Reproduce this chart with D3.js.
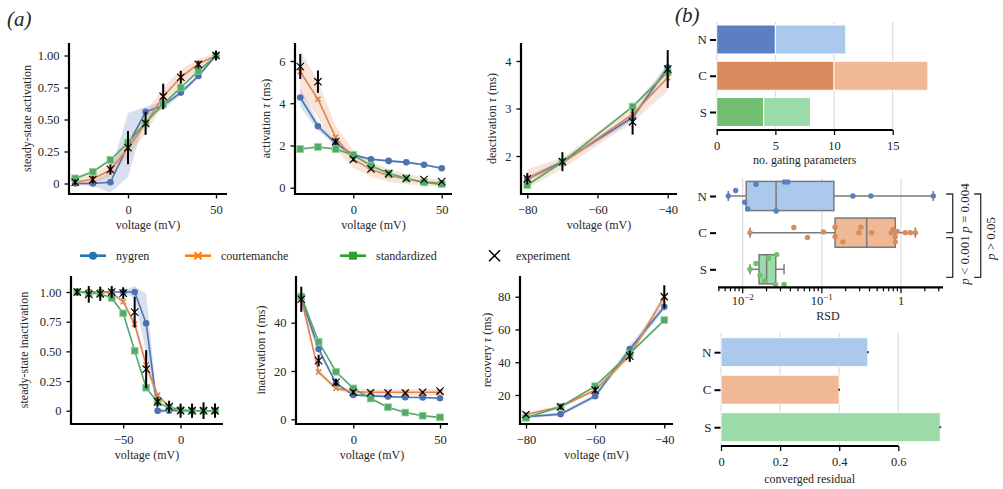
<!DOCTYPE html>
<html lang="en">
<head>
<meta charset="UTF-8">
<title>Gating model comparison</title>
<script src="https://cdn.jsdelivr.net/npm/d3@7"></script>
<style>
  body { margin: 0; background: #fff; }
  svg text { font-family: 'Liberation Serif', 'DejaVu Serif', serif; fill: #262626; }
</style>
</head>
<body>
<div id="chart"></div>
<script>
// ---- model names / colours ----
const modelNames = ['nygren', 'courtemanche', 'standardized'];
const modelColors = ['#4c72b0', '#dd8452', '#55a868'];
const legendColors = ['#1f77b4', '#ff7f0e', '#2ca02c'];
const modelMarkers = ['circle', 'x', 'square'];

// ---- steady-state activation ----
const ssActV = [-30, -20, -10, 0, 10, 20, 30, 40, 50];
const ssActNygren = [0, 0, 0.01, 0.30, 0.56, 0.61, 0.71, 0.84, 1.0];
const ssActCourt = [0.01, 0.035, 0.105, 0.275, 0.47, 0.68, 0.83, 0.935, 1.0];
const ssActStd = [0.04, 0.092, 0.184, 0.32, 0.475, 0.62, 0.75, 0.88, 1.0];
const ssActExp = [0.01, 0.03, 0.11, 0.28, 0.47, 0.68, 0.83, 0.93, 1.0];
const ssActExpErr = [0.02, 0.03, 0.04, 0.13, 0.09, 0.1, 0.05, 0.03, 0.04];
const ssActNygrenBand = [0.01, 0.02, 0.08, 0.25, 0.04, 0.03, 0.02, 0.02, 0.01];
const ssActCourtBand = [0.03, 0.04, 0.05, 0.06, 0.08, 0.07, 0.06, 0.04, 0.02];
const ssActStdBand = [0.01, 0.01, 0.01, 0.01, 0.01, 0.01, 0.01, 0.01, 0.01];

// ---- activation tau ----
const actTauV = [-30, -20, -10, 0, 10, 20, 30, 40, 50];
const actTauNygren = [4.27, 2.91, 2.1, 1.55, 1.35, 1.27, 1.2, 1.09, 0.92];
const actTauCourt = [5.5, 4.19, 2.39, 1.35, 0.87, 0.57, 0.41, 0.28, 0.22];
const actTauStd = [1.83, 1.93, 1.83, 1.55, 1.04, 0.68, 0.44, 0.25, 0.17];
const actTauExp = [5.74, 5.02, 2.18, 1.34, 0.89, 0.67, 0.44, 0.39, 0.29];
const actTauExpErr = [0.59, 0.53, 0.15, 0.1, 0.06, 0.05, 0.05, 0.05, 0.05];
const actTauNygrenBand = [0.45, 0.2, 0.1, 0.08, 0.06, 0.05, 0.05, 0.05, 0.05];
const actTauCourtBand = [1.0, 0.85, 0.55, 0.42, 0.35, 0.3, 0.25, 0.2, 0.15];
const actTauStdBand = [0.05, 0.05, 0.05, 0.05, 0.05, 0.05, 0.05, 0.05, 0.05];

// ---- deactivation tau ----
const deactTauV = [-80, -70, -50, -40];
const deactTauNygren = [1.52, 1.88, 2.81, 3.86];
const deactTauCourt = [1.52, 1.85, 2.88, 3.65];
const deactTauStd = [1.39, 1.87, 3.04, 3.77];
const deactTauExp = [1.52, 1.88, 2.72, 3.83];
const deactTauExpErr = [0.12, 0.2, 0.27, 0.4];
const deactTauNygrenBand = [0.05, 0.05, 0.06, 0.08];
const deactTauCourtBand = [0.2, 0.12, 0.17, 0.28];
const deactTauStdBand = [0.02, 0.02, 0.02, 0.02];

// ---- steady-state inactivation ----
const ssInactV = [-90, -80, -70, -60, -50, -40, -30, -20, -10, 0, 10, 20, 30];
const ssInactNygren = [1, 1, 1, 1, 1, 1, 0.736, 0, 0, 0, 0, 0, 0];
const ssInactCourt = [1, 1, 1, 0.99, 0.918, 0.73, 0.385, 0.13, 0.034, 0.005, 0, 0, 0];
const ssInactStd = [1, 0.99, 0.985, 0.95, 0.82, 0.505, 0.194, 0.07, 0.025, 0.005, 0, 0, 0];
const ssInactExp = [1, 0.98, 0.985, 1.0, 0.99, 0.83, 0.35, 0.076, 0.034, 0, 0, 0, 0];
const ssInactExpErr = [0.03, 0.07, 0.06, 0.05, 0.05, 0.13, 0.16, 0.04, 0.05, 0.06, 0.06, 0.07, 0.06];
const ssInactNygrenBand = [0, 0, 0, 0, 0.01, 0.05, 0.25, 0.03, 0, 0, 0, 0, 0];
const ssInactCourtBand = [0, 0, 0, 0.01, 0.02, 0.04, 0.05, 0.03, 0.01, 0, 0, 0, 0];
const ssInactStdBand = [0, 0, 0, 0.01, 0.01, 0.01, 0.01, 0.01, 0, 0, 0, 0, 0];

// ---- inactivation tau ----
const inactTauV = [-30, -20, -10, 0, 10, 20, 30, 40, 50];
const inactTauNygren = [50.3, 29.1, 14.9, 10.1, 9.7, 9.4, 9.1, 9.0, 8.7];
const inactTauCourt = [50, 19.6, 12.8, 11.4, 11.2, 11.2, 11.2, 11.2, 11.2];
const inactTauStd = [50.8, 32.1, 19.7, 12.8, 8.6, 5.0, 2.8, 1.5, 0.8];
const inactTauExp = [49.7, 24.3, 15.3, 11.2, 11.0, 10.9, 10.9, 11.2, 11.7];
const inactTauExpErr = [5.2, 2.4, 1.5, 1.0, 0.6, 0.5, 0.5, 0.5, 0.5];
const inactTauNygrenBand = [3, 1.5, 0.8, 0.4, 0.4, 0.4, 0.4, 0.4, 0.4];
const inactTauCourtBand = [2, 1, 0.8, 1, 1.2, 1.2, 1.2, 1.2, 1.2];
const inactTauStdBand = [0.5, 0.3, 0.3, 0.3, 0.3, 0.3, 0.3, 0.3, 0.3];

// ---- recovery tau ----
const recTauV = [-80, -70, -60, -50, -40];
const recTauNygren = [6.7, 8.3, 19.3, 48, 73.8];
const recTauCourt = [8.1, 12.8, 23, 44.3, 79.9];
const recTauStd = [6.1, 12.8, 25.4, 45.3, 65.7];
const recTauExp = [8.1, 12.8, 23, 43.7, 80];
const recTauExpErr = [1, 1.5, 2, 3.5, 7];
const recTauNygrenBand = [1, 1, 1.5, 2.5, 2];
const recTauCourtBand = [1, 1, 1.5, 2, 2.5];
const recTauStdBand = [0.5, 0.5, 0.5, 0.5, 0.5];

// ---- tick labels ----
const fracTicks = [0, 0.25, 0.5, 0.75, 1];
const fracTickLabels = ['0', '0.25', '0.50', '0.75', '1.00'];
const posVTicks = [0, 50];
const posVTickLabels = ['0', '50'];
const negVTicks = [-80, -60, -40];
const negVTickLabels = ['\u221280', '\u221260', '\u221240'];
const inactVTicks = [-50, 0];
const inactVTickLabels = ['\u221250', '0'];

// ---- panel (b) ----
const groups = ['N', 'C', 'S'];
const groupDark = ['#5b7fc0', '#d98b5e', '#72be6f'];
const groupLight = ['#abc9ec', '#f0b894', '#9bdaa9'];
const gatingFirst = [5, 10, 4];
const gatingSecond = [6, 8, 4];
const gatingTicks = [0, 5, 10, 15];

const rsdN = [0.00658, 0.00815, 0.0106, 0.01156, 0.01472, 0.0264, 0.0337, 0.0372, 0.2466, 0.417, 2.56];
const rsdNJitter = [0, -0.15, 0.17, 0.35, -0.32, 0.41, -0.38, -0.38, 0, 0, 0];
const rsdC = [0.01236, 0.0443, 0.0658, 0.105, 0.147, 0.147, 0.1845, 0.312, 0.294, 0.425,
              0.792, 0.754, 0.847, 0.847, 0.897, 1.13, 1.31, 1.52];
const rsdCJitter = [0, -0.14, 0.13, -0.02, -0.15, 0.11, 0.25, -0.15, 0, 0, -0.09, 0, 0.11, 0.25, -0.03, 0, 0, 0];
const rsdS = [0.01236, 0.0147, 0.01655, 0.0188, 0.0213, 0.0269, 0.0259, 0.0333];
const rsdSJitter = [0, -0.16, 0.16, 0.32, -0.3, -0.4, 0.41, 0.41];
const rsdTicks = [0.01, 0.1, 1];
const rsdTickBase = ['10', '10', '1'];
const rsdTickExp = ['\u22122', '\u22121', ''];
const sigLabels = [['=', '0.004'], ['<', '0.001'], ['>', '0.05']];

const residual = [0.497, 0.40, 0.742];
const residualErr = [0.003, 0.003, 0.003];
const residualTicks = [0, 0.2, 0.4, 0.6];
const residualTickLabels = ['0', '0.2', '0.4', '0.6'];

// ---------------------------------------------------------------
const svg = d3.select('#chart').append('svg')
  .attr('width', 1003).attr('height', 489);

const tickFont = 12.5;
const labelFont = 12;

function marker(g, type, cx, cy, color, size) {
  if (type === 'circle') {
    g.append('circle').attr('cx', cx).attr('cy', cy).attr('r', size)
      .attr('fill', color);
  } else if (type === 'square') {
    g.append('rect').attr('x', cx - size).attr('y', cy - size)
      .attr('width', size * 2).attr('height', size * 2)
      .attr('fill', color).attr('stroke', '#8fd49a').attr('stroke-width', 0.8);
  } else {
    g.append('path')
      .attr('d', `M${cx - size},${cy - size}L${cx + size},${cy + size}M${cx - size},${cy + size}L${cx + size},${cy - size}`)
      .attr('stroke', color).attr('stroke-width', type === 'x' ? 1.6 : 1.1).attr('fill', 'none');
  }
}

function styleAxis(a) {
  a.select('.domain').remove();
  a.selectAll('.tick line').attr('stroke', '#000').attr('stroke-width', 1.3);
  a.selectAll('.tick text').attr('font-size', tickFont).attr('fill', '#262626');
}

function drawPanel(p) {
  const g = svg.append('g');
  const x = d3.scaleLinear().domain(p.xRef).range(p.xPx);
  const y = d3.scaleLinear().domain(p.yRef).range(p.yPx);
  const pts = vals => p.v.map((v, i) => ({ x: v, y: vals[i], i }));

  // spread bands
  p.models.forEach((m, k) => {
    const area = d3.area()
      .x(d => x(d.x))
      .y0(d => y(d.y - m.band[d.i]))
      .y1(d => y(d.y + m.band[d.i]));
    g.append('path').datum(pts(m.values)).attr('d', area)
      .attr('fill', modelColors[k]).attr('opacity', 0.22);
  });

  // model lines + markers
  const line = d3.line().x(d => x(d.x)).y(d => y(d.y));
  p.models.forEach((m, k) => {
    g.append('path').datum(pts(m.values)).attr('d', line)
      .attr('fill', 'none').attr('stroke', modelColors[k]).attr('stroke-width', 1.6);
    pts(m.values).forEach(d => {
      const s = modelMarkers[k] === 'circle' ? 3.3 : (modelMarkers[k] === 'square' ? 3.4 : 2.6);
      marker(g, modelMarkers[k], x(d.x), y(d.y), modelColors[k], s);
    });
  });

  // experiment
  pts(p.exp).forEach(d => {
    g.append('line')
      .attr('x1', x(d.x)).attr('x2', x(d.x))
      .attr('y1', y(d.y - p.expErr[d.i])).attr('y2', y(d.y + p.expErr[d.i]))
      .attr('stroke', '#000').attr('stroke-width', 2);
    marker(g, 'exp', x(d.x), y(d.y), '#000', 3.7);
  });

  // axes
  const ax = g.append('g').attr('transform', `translate(0,${p.bottom})`)
    .call(d3.axisBottom(x).tickValues(p.xTicks).tickFormat((d, i) => p.xTickLabels[i])
      .tickSize(4.5).tickPadding(6.5));
  styleAxis(ax);
  const ay = g.append('g').attr('transform', `translate(${p.left},0)`)
    .call(d3.axisLeft(y).tickValues(p.yTicks).tickFormat((d, i) => p.yTickLabels[i])
      .tickSize(4.5).tickPadding(5));
  styleAxis(ay);

  g.append('line').attr('x1', p.left).attr('x2', p.left).attr('y1', p.top).attr('y2', p.bottom + 1)
    .attr('stroke', '#000').attr('stroke-width', 2.2);
  g.append('line').attr('x1', p.left - 1).attr('x2', p.right).attr('y1', p.bottom).attr('y2', p.bottom)
    .attr('stroke', '#000').attr('stroke-width', 2.2);

  // labels
  g.append('text').attr('x', (p.left + p.right) / 2).attr('y', p.bottom + 35)
    .attr('text-anchor', 'middle').attr('font-size', labelFont).text('voltage (mV)');
  const yl = g.append('text')
    .attr('transform', `translate(${p.yLabelX},${(p.top + p.bottom) / 2}) rotate(-90)`)
    .attr('text-anchor', 'middle').attr('font-size', labelFont);
  if (p.tau) {
    yl.append('tspan').text(p.yLabel + ' ');
    yl.append('tspan').attr('font-style', 'italic').text('\u03c4');
    yl.append('tspan').text(' (ms)');
  } else {
    yl.text(p.yLabel);
  }
}

const panels = [
  { v: ssActV, exp: ssActExp, expErr: ssActExpErr,
    models: [{ values: ssActNygren, band: ssActNygrenBand }, { values: ssActCourt, band: ssActCourtBand }, { values: ssActStd, band: ssActStdBand }],
    xRef: [0, 50], xPx: [128, 216], yRef: [0, 1], yPx: [183.5, 55.5],
    left: 69, right: 227, top: 43, bottom: 194,
    xTicks: posVTicks, xTickLabels: posVTickLabels, yTicks: fracTicks, yTickLabels: fracTickLabels,
    yLabel: 'steady-state activation', yLabelX: 31, tau: false },
  { v: actTauV, exp: actTauExp, expErr: actTauExpErr,
    models: [{ values: actTauNygren, band: actTauNygrenBand }, { values: actTauCourt, band: actTauCourtBand }, { values: actTauStd, band: actTauStdBand }],
    xRef: [0, 50], xPx: [353.3, 441.7], yRef: [0, 6], yPx: [187.7, 61],
    left: 295, right: 452, top: 43, bottom: 194,
    xTicks: posVTicks, xTickLabels: posVTickLabels, yTicks: [0, 2, 4, 6], yTickLabels: ['0', '2', '4', '6'],
    yLabel: 'activation', yLabelX: 270, tau: true },
  { v: deactTauV, exp: deactTauExp, expErr: deactTauExpErr,
    models: [{ values: deactTauNygren, band: deactTauNygrenBand }, { values: deactTauCourt, band: deactTauCourtBand }, { values: deactTauStd, band: deactTauStdBand }],
    xRef: [-80, -40], xPx: [527.3, 667.7], yRef: [2, 4], yPx: [156, 61],
    left: 521, right: 677, top: 43, bottom: 194,
    xTicks: negVTicks, xTickLabels: negVTickLabels, yTicks: [2, 3, 4], yTickLabels: ['2', '3', '4'],
    yLabel: 'deactivation', yLabelX: 496, tau: true },
  { v: ssInactV, exp: ssInactExp, expErr: ssInactExpErr,
    models: [{ values: ssInactNygren, band: ssInactNygrenBand }, { values: ssInactCourt, band: ssInactCourtBand }, { values: ssInactStd, band: ssInactStdBand }],
    xRef: [-90, 30], xPx: [77.3, 215], yRef: [0, 1], yPx: [410.7, 292],
    left: 71, right: 223, top: 276, bottom: 424,
    xTicks: inactVTicks, xTickLabels: inactVTickLabels, yTicks: fracTicks, yTickLabels: fracTickLabels,
    yLabel: 'steady-state inactivation', yLabelX: 28, tau: false },
  { v: inactTauV, exp: inactTauExp, expErr: inactTauExpErr,
    models: [{ values: inactTauNygren, band: inactTauNygrenBand }, { values: inactTauCourt, band: inactTauCourtBand }, { values: inactTauStd, band: inactTauStdBand }],
    xRef: [0, 50], xPx: [353.3, 440], yRef: [0, 40], yPx: [419.3, 322.7],
    left: 296, right: 448, top: 276, bottom: 424,
    xTicks: posVTicks, xTickLabels: posVTickLabels, yTicks: [0, 20, 40], yTickLabels: ['0', '20', '40'],
    yLabel: 'inactivation', yLabelX: 265, tau: true },
  { v: recTauV, exp: recTauExp, expErr: recTauExpErr,
    models: [{ values: recTauNygren, band: recTauNygrenBand }, { values: recTauCourt, band: recTauCourtBand }, { values: recTauStd, band: recTauStdBand }],
    xRef: [-80, -40], xPx: [526, 664.3], yRef: [20, 80], yPx: [395, 296.7],
    left: 520, right: 673, top: 276, bottom: 424,
    xTicks: negVTicks, xTickLabels: negVTickLabels, yTicks: [20, 40, 60, 80], yTickLabels: ['20', '40', '60', '80'],
    yLabel: 'recovery', yLabelX: 491, tau: true }
];
panels.forEach(drawPanel);

// legend
const legendX = [80, 185, 340];
const legend = svg.append('g');
modelNames.forEach((name, k) => {
  const lx = legendX[k], ly = 255.7;
  legend.append('line').attr('x1', lx).attr('x2', lx + 26).attr('y1', ly).attr('y2', ly)
    .attr('stroke', legendColors[k]).attr('stroke-width', 2.6);
  if (modelMarkers[k] === 'circle') {
    legend.append('circle').attr('cx', lx + 13).attr('cy', ly).attr('r', 4).attr('fill', legendColors[k]);
  } else if (modelMarkers[k] === 'square') {
    legend.append('rect').attr('x', lx + 9).attr('y', ly - 4).attr('width', 8).attr('height', 8).attr('fill', legendColors[k]);
  } else {
    legend.append('path').attr('d', `M${lx + 9.5},${ly - 3.5}L${lx + 16.5},${ly + 3.5}M${lx + 9.5},${ly + 3.5}L${lx + 16.5},${ly - 3.5}`)
      .attr('stroke', legendColors[k]).attr('stroke-width', 2.2);
  }
  legend.append('text').attr('x', lx + 36).attr('y', ly + 4).attr('font-size', 12).text(name);
});
legend.append('path').attr('d', 'M489,250.2L500,261.2M489,261.2L500,250.2')
  .attr('stroke', '#000').attr('stroke-width', 1.5).attr('fill', 'none');
legend.append('text').attr('x', 516).attr('y', 259.7).attr('font-size', 12).text('experiment');

// panel labels
svg.append('text').attr('x', 7).attr('y', 26).attr('font-size', 21).attr('font-style', 'italic').text('(a)');
svg.append('text').attr('x', 675).attr('y', 22).attr('font-size', 21).attr('font-style', 'italic').text('(b)');

// ---------- (b) top: no. gating parameters ----------
function catAxis(yScale, xLeft) {
  const a = svg.append('g').attr('transform', `translate(${xLeft},0)`)
    .call(d3.axisLeft(yScale).tickSize(6).tickPadding(3));
  a.select('.domain').remove();
  a.selectAll('.tick line').attr('stroke', '#000').attr('stroke-width', 2);
  a.selectAll('.tick text').attr('font-size', 13).attr('fill', '#262626');
}
function grid(xs, vals, y0, y1) {
  svg.append('g').selectAll('line').data(vals).join('line')
    .attr('x1', d => xs(d)).attr('x2', d => xs(d)).attr('y1', y0).attr('y2', y1)
    .attr('stroke', '#dcdcdc').attr('stroke-width', 1.2);
}
function bottomAxis(xs, yPos, ticks, labels, x0, x1, label, labelY) {
  const a = svg.append('g').attr('transform', `translate(0,${yPos})`)
    .call(d3.axisBottom(xs).tickValues(ticks).tickFormat((d, i) => labels[i]).tickSize(5).tickPadding(6));
  styleAxis(a);
  svg.append('line').attr('x1', x0).attr('x2', x1).attr('y1', yPos).attr('y2', yPos)
    .attr('stroke', '#000').attr('stroke-width', 2.2);
  svg.append('text').attr('x', (x0 + x1) / 2).attr('y', labelY).attr('text-anchor', 'middle')
    .attr('font-size', labelFont).text(label);
}

const gx = d3.scaleLinear().domain([0, 15]).range([716.7, 892.7]);
const gy = d3.scalePoint().domain(groups).range([39.5, 112]);
grid(gx, gatingTicks, 22, 130);
groups.forEach((c, i) => {
  svg.append('rect').attr('x', gx(0)).attr('y', gy(c) - 14.5)
    .attr('width', gx(gatingFirst[i]) - gx(0)).attr('height', 29)
    .attr('fill', groupDark[i]).attr('stroke', '#fff').attr('stroke-width', 1);
  svg.append('rect').attr('x', gx(gatingFirst[i])).attr('y', gy(c) - 14.5)
    .attr('width', gx(gatingFirst[i] + gatingSecond[i]) - gx(gatingFirst[i])).attr('height', 29)
    .attr('fill', groupLight[i]).attr('stroke', '#fff').attr('stroke-width', 1);
});
catAxis(gy, 716);
bottomAxis(gx, 130, gatingTicks, gatingTicks.map(String), 716.7, 892.7, 'no. gating parameters', 164);

// ---------- (b) middle: RSD box plot ----------
const rx = d3.scaleLog().domain([0.01, 1]).range([742.7, 901]);
const ry = d3.scalePoint().domain(groups).range([196, 269.3]);
const rsdSets = [rsdN, rsdC, rsdS];
const rsdJitters = [rsdNJitter, rsdCJitter, rsdSJitter];
grid(rx, rsdTicks, 178, 287);
rsdSets.forEach((vals, i) => {
  const s = vals.slice().sort(d3.ascending);
  const q1 = d3.quantile(s, 0.25), med = d3.quantile(s, 0.5), q3 = d3.quantile(s, 0.75);
  const lo = s[0], hi = s[s.length - 1];
  const cy = ry(groups[i]);
  const g = svg.append('g');
  g.append('line').attr('x1', rx(lo)).attr('x2', rx(q1)).attr('y1', cy).attr('y2', cy)
    .attr('stroke', '#7a7a7a').attr('stroke-width', 1.5);
  g.append('line').attr('x1', rx(q3)).attr('x2', rx(hi)).attr('y1', cy).attr('y2', cy)
    .attr('stroke', '#7a7a7a').attr('stroke-width', 1.5);
  [lo, hi].forEach(v => g.append('line').attr('x1', rx(v)).attr('x2', rx(v))
    .attr('y1', cy - 5).attr('y2', cy + 5).attr('stroke', '#7a7a7a').attr('stroke-width', 1.5));
  g.append('rect').attr('x', rx(q1)).attr('y', cy - 14.6).attr('width', rx(q3) - rx(q1)).attr('height', 29.2)
    .attr('fill', groupLight[i]).attr('stroke', '#7a7a7a').attr('stroke-width', 1.5);
  g.append('line').attr('x1', rx(med)).attr('x2', rx(med)).attr('y1', cy - 14.6).attr('y2', cy + 14.6)
    .attr('stroke', '#7a7a7a').attr('stroke-width', 1.5);
  vals.forEach((v, j) => {
    g.append('circle').attr('cx', rx(v)).attr('cy', cy + rsdJitters[i][j] * 36.7).attr('r', 2.7)
      .attr('fill', groupDark[i]);
  });
});
catAxis(ry, 716);
// log axis
const minorTicks = [];
[-3, -2, -1, 0].forEach(k => d3.range(1, 10).forEach(m => {
  const v = m * Math.pow(10, k);
  if (v >= 0.0049 && v <= 3.4) minorTicks.push(v);
}));
const ra = svg.append('g').attr('transform', 'translate(0,287.3)');
ra.selectAll('line.minor').data(minorTicks).join('line')
  .attr('x1', d => rx(d)).attr('x2', d => rx(d)).attr('y1', 0)
  .attr('y2', d => rsdTicks.includes(+d.toPrecision(3)) ? 6 : 4)
  .attr('stroke', '#000').attr('stroke-width', 1.2);
svg.append('line').attr('x1', 718).attr('x2', 943).attr('y1', 287.3).attr('y2', 287.3)
  .attr('stroke', '#000').attr('stroke-width', 2.2);
rsdTicks.forEach((v, i) => {
  const t = svg.append('text').attr('x', rx(v)).attr('y', 305).attr('text-anchor', 'middle')
    .attr('font-size', tickFont);
  t.append('tspan').text(rsdTickBase[i]);
  if (rsdTickExp[i]) t.append('tspan').attr('dy', -5).attr('font-size', 9).text(rsdTickExp[i]);
});
svg.append('text').attr('x', 828).attr('y', 320).attr('text-anchor', 'middle')
  .attr('font-size', labelFont).text('RSD');

// significance brackets
const brackets = [
  { from: 'N', to: 'C', d0: -2, d1: 0, x: 952.7, tx: 969, ty: 208 },
  { from: 'C', to: 'S', d0: 5, d1: 8, x: 952.7, tx: 969, ty: 260 },
  { from: 'N', to: 'S', d0: -2, d1: 8, x: 980.7, tx: 995, ty: 238.5 }
];
brackets.forEach((b, i) => {
  const y0 = ry(b.from) + b.d0, y1 = ry(b.to) + b.d1;
  svg.append('path').attr('d', `M${b.x - 6.5},${y0}H${b.x}V${y1}H${b.x - 6.5}`)
    .attr('fill', 'none').attr('stroke', '#333').attr('stroke-width', 1.3);
  const t = svg.append('text').attr('transform', `translate(${b.tx},${b.ty}) rotate(-90)`)
    .attr('text-anchor', 'middle').attr('font-size', 13);
  t.append('tspan').attr('font-style', 'italic').text('p');
  t.append('tspan').text(' ' + sigLabels[i][0] + ' ' + sigLabels[i][1]);
});

// ---------- (b) bottom: converged residual ----------
const cx = d3.scaleLinear().domain([0, 0.6]).range([721, 898.3]);
const cyS = d3.scalePoint().domain(groups).range([352.2, 427.2]);
grid(cx, residualTicks, 333, 446);
groups.forEach((c, i) => {
  svg.append('rect').attr('x', cx(0)).attr('y', cyS(c) - 14.5)
    .attr('width', cx(residual[i]) - cx(0)).attr('height', 29)
    .attr('fill', groupLight[i]).attr('stroke', '#fff').attr('stroke-width', 1);
  svg.append('line').attr('x1', cx(residual[i] - residualErr[i])).attr('x2', cx(residual[i] + residualErr[i]))
    .attr('y1', cyS(c)).attr('y2', cyS(c)).attr('stroke', '#333').attr('stroke-width', 2);
});
catAxis(cyS, 720.5);
bottomAxis(cx, 446, residualTicks, residualTickLabels, 721, 898.3, 'converged residual', 483);
</script>
</body>
</html>
